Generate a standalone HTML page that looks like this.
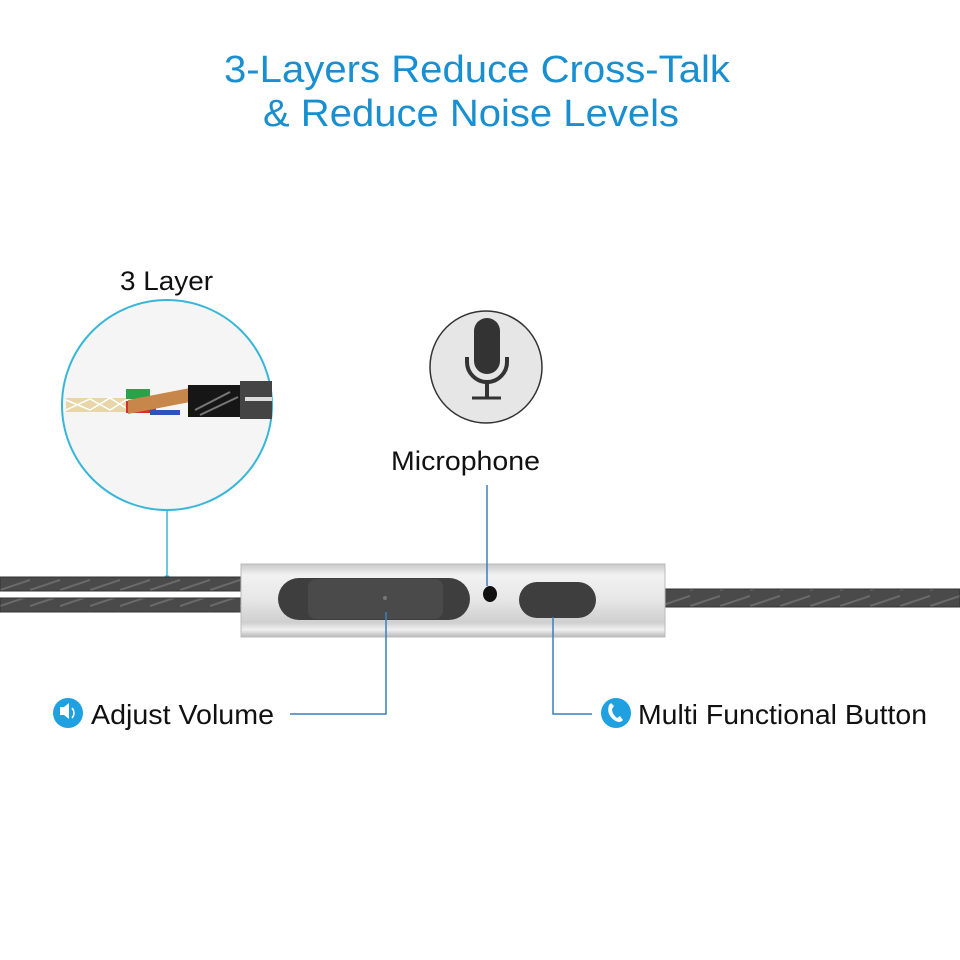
<!DOCTYPE html>
<html><head><meta charset="utf-8"><style>
html,body{margin:0;padding:0;background:#fff;}
svg{display:block}
text{font-family:"Liberation Sans",Arial,sans-serif;}
</style></head><body>
<svg width="960" height="960" viewBox="0 0 960 960" xmlns="http://www.w3.org/2000/svg">
<defs>
<linearGradient id="metal" x1="0" y1="0" x2="0" y2="1">
<stop offset="0" stop-color="#c8c8c8"/><stop offset="0.15" stop-color="#f2f2f2"/><stop offset="0.5" stop-color="#e6e6e6"/><stop offset="0.8" stop-color="#cfcfcf"/><stop offset="0.9" stop-color="#f0f0f0"/><stop offset="1" stop-color="#b8b8b8"/>
</linearGradient>
<pattern id="twist" width="30" height="16" patternUnits="userSpaceOnUse">
<rect width="30" height="16" fill="#4a4a4a"/>
<path d="M0 14 L30 4" stroke="#6a6a6a" stroke-width="2"/>
</pattern>
</defs>
<text x="224" y="82" font-size="38" fill="#1a8fd0" textLength="506" lengthAdjust="spacingAndGlyphs">3-Layers Reduce Cross-Talk</text>
<text x="263" y="126" font-size="38" fill="#1a8fd0" textLength="416" lengthAdjust="spacingAndGlyphs">&amp; Reduce Noise Levels</text>

<text x="120" y="290" font-size="27" fill="#111" textLength="93" lengthAdjust="spacingAndGlyphs">3 Layer</text>
<circle cx="167" cy="405" r="105" fill="#f5f5f5" stroke="#38b6d8" stroke-width="2"/>
<g>
<path d="M66 398 L126 398 L126 412 L66 412Z" fill="#e8d6a8"/>
<path d="M66 400 L90 410 L110 398 L126 408 M66 410 L90 399 L110 410 L126 400" stroke="#fff" stroke-width="1.5" fill="none"/>
<rect x="126" y="389" width="24" height="10" fill="#2aa24a"/>
<rect x="126" y="401" width="30" height="12" fill="#d03030"/>
<rect x="150" y="410" width="30" height="5" fill="#3050c0"/>
<path d="M128 400 L190 388 L190 402 L128 414Z" fill="#c8874a"/>
<rect x="188" y="385" width="52" height="32" fill="#161616"/>
<path d="M195 410 L230 392 M200 415 L238 397" stroke="#777" stroke-width="2"/>
<rect x="240" y="381" width="32" height="38" fill="#444"/>
<rect x="245" y="397" width="27" height="4" fill="#ddd"/>
</g>
<line x1="167" y1="510" x2="167" y2="578" stroke="#38b6d8" stroke-width="1.5"/>
<circle cx="167" cy="578" r="3" fill="#38b6d8"/>

<rect x="0" y="577" width="245" height="14" fill="url(#twist)" stroke="#333" stroke-width="1"/>
<rect x="0" y="598" width="245" height="14" fill="url(#twist)" stroke="#333" stroke-width="1"/>
<rect x="664" y="589" width="296" height="18" fill="url(#twist)" stroke="#333" stroke-width="1"/>

<rect x="241" y="564" width="424" height="73" fill="url(#metal)" stroke="#bbb" stroke-width="1"/>
<rect x="278" y="578" width="192" height="42" rx="21" fill="#3e3e3e"/>
<rect x="308" y="579" width="135" height="40" rx="8" fill="#4a4a4a"/>
<circle cx="385" cy="598" r="2" fill="#777"/>
<ellipse cx="490" cy="594" rx="7" ry="8" fill="#111"/>
<rect x="519" y="582" width="77" height="36" rx="18" fill="#3e3e3e"/>

<line x1="487" y1="485" x2="487" y2="586" stroke="#3a7fc0" stroke-width="1.5"/>
<text x="391" y="470" font-size="27" fill="#111" textLength="149" lengthAdjust="spacingAndGlyphs">Microphone</text>
<circle cx="486" cy="367" r="56" fill="#e6e6e6" stroke="#333" stroke-width="1.5"/>
<rect x="474" y="318" width="26" height="56" rx="13" fill="#333"/>
<path d="M467 357 L467 362 A20 20 0 0 0 507 362 L507 357" stroke="#333" stroke-width="4" fill="none"/>
<line x1="487" y1="382" x2="487" y2="397" stroke="#333" stroke-width="4"/>
<line x1="472" y1="398" x2="501" y2="398" stroke="#333" stroke-width="3"/>

<polyline points="386,612 386,714 290,714" stroke="#3a7fc0" stroke-width="1.5" fill="none"/>
<polyline points="553,617 553,714 592,714" stroke="#3a7fc0" stroke-width="1.5" fill="none"/>

<circle cx="68" cy="713" r="15" fill="#1fa0e0"/>
<path d="M61 709 L65 709 L70 705 L70 721 L65 717 L61 717Z" fill="#fff" transform="translate(-1,-2)"/>
<path d="M72 708 Q76 713 72 718" stroke="#fff" stroke-width="1.5" fill="none"/>
<text x="91" y="724" font-size="28" fill="#111" textLength="183" lengthAdjust="spacingAndGlyphs">Adjust Volume</text>

<circle cx="616" cy="713" r="15" fill="#1fa0e0"/>
<path d="M609 705 Q606 714 614 720 Q620 724 623 720 L620 716 L617 718 Q612 714 612 709 L614 706 L611 703Z" fill="#fff"/>
<text x="638" y="724" font-size="28" fill="#111" textLength="289" lengthAdjust="spacingAndGlyphs">Multi Functional Button</text>
</svg>
</body></html>
